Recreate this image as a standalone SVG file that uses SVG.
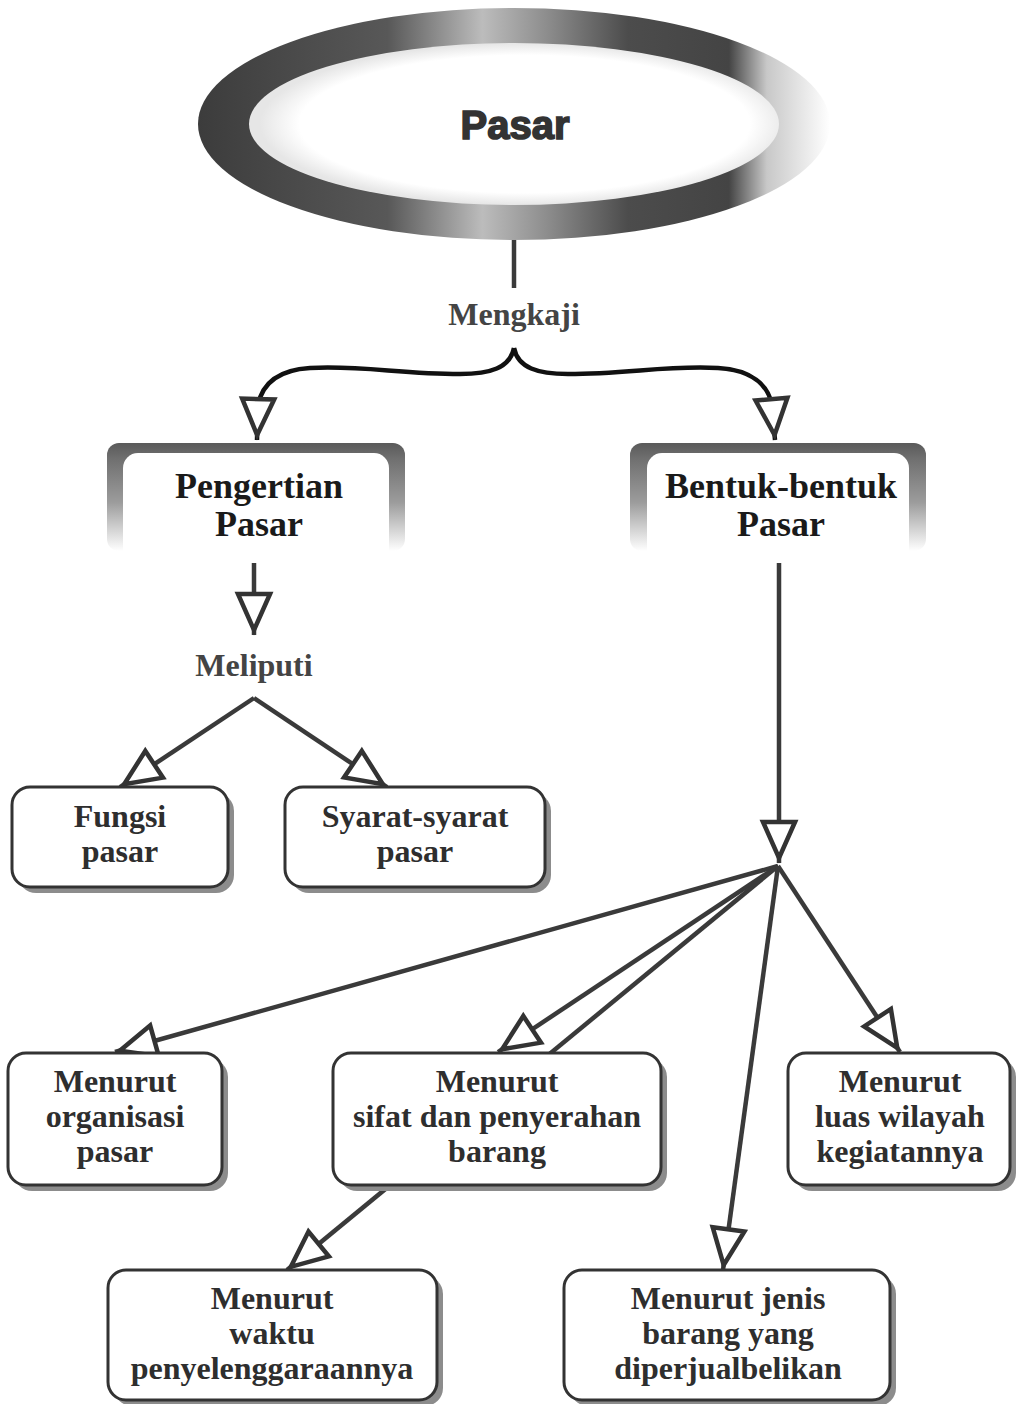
<svg xmlns="http://www.w3.org/2000/svg" width="1016" height="1404" viewBox="0 0 1016 1404">
<defs>
<style>
.t{font-family:"Liberation Serif","Times New Roman",serif;font-weight:bold;text-anchor:middle;fill:#2e2e2e}
.box{fill:#fff;stroke:#333;stroke-width:3}
.sh{fill:#8c8c8c}
.ln{fill:none;stroke:#3a3a3a;stroke-width:4.5;stroke-linecap:butt}
.arr{marker-end:url(#ah)}
</style>
<linearGradient id="ring" gradientUnits="userSpaceOnUse" x1="198" y1="0" x2="830" y2="0">
<stop offset="0" stop-color="#3c3c3c"/>
<stop offset="0.3" stop-color="#585858"/>
<stop offset="0.45" stop-color="#bcbcbc"/>
<stop offset="0.55" stop-color="#8e8e8e"/>
<stop offset="0.68" stop-color="#4c4c4c"/>
<stop offset="0.84" stop-color="#444"/>
<stop offset="0.9" stop-color="#c8c8c8"/>
<stop offset="1" stop-color="#fff"/>
</linearGradient>
<radialGradient id="inner" cx="0.52" cy="0.5" r="0.5">
<stop offset="0.85" stop-color="#fff"/>
<stop offset="1" stop-color="#e6e6e6"/>
</radialGradient>
<linearGradient id="hg" x1="0" y1="0" x2="0" y2="1">
<stop offset="0" stop-color="#5a5a5a"/>
<stop offset="0.15" stop-color="#707070"/>
<stop offset="0.55" stop-color="#9c9c9c"/>
<stop offset="1" stop-color="#fff"/>
</linearGradient>
<marker id="ah" viewBox="-4 -4 48 40" markerWidth="48" markerHeight="40" refX="41" refY="16" orient="auto" markerUnits="userSpaceOnUse" overflow="visible">
<path d="M0,0 L36,16 L0,32 Z" fill="#fff" stroke="#333" stroke-width="4.5" stroke-linejoin="miter"/>
</marker>
</defs>
<rect x="0" y="0" width="1016" height="1404" fill="#fff"/>

<g id="connectors">
<path class="ln" d="M514,240 L514,288" stroke="#333"/>
<path class="ln arr" style="stroke:#111" d="M514,348 C510,368 490,374 460,374 C400,374 360,365 310,368 C276,370 262,385 258,405 L257,440"/>
<path class="ln arr" style="stroke:#111" d="M514,348 C518,368 538,374 568,374 C628,374 668,365 718,368 C752,370 768,385 772,405 L775,440"/>
<path class="ln arr" d="M254,552 L254,635"/>
<path class="ln arr" d="M254,698 L120,787"/>
<path class="ln arr" d="M254,698 L387,787"/>
<path class="ln arr" d="M779,553 L779,863"/>
<path class="ln arr" d="M778,866 L115,1052"/>
<path class="ln arr" d="M778,866 L498,1052"/>
<path class="ln arr" d="M778,866 L287,1270"/>
<path class="ln arr" d="M778,866 L723,1270"/>
<path class="ln arr" d="M778,866 L900,1052"/>
</g>

<g id="pasar">
<ellipse cx="514" cy="124" rx="316" ry="116" fill="url(#ring)"/>
<ellipse cx="514" cy="124" rx="265" ry="81" fill="url(#inner)"/>
<text x="515" y="139" style="font-family:'Liberation Sans',Arial,sans-serif;font-weight:bold;font-size:40px;text-anchor:middle;fill:#333;stroke:#333;stroke-width:1.6">Pasar</text>
</g>

<g id="mengkaji">
<text class="t" x="514" y="325" style="font-size:32px;fill:#444">Mengkaji</text>
</g>

<g id="pengertian">
<rect x="107" y="443" width="298" height="108" rx="12" fill="url(#hg)"/>
<rect x="123" y="453" width="266" height="110" rx="15" fill="#fff"/>
<text class="t" x="259" y="498" style="font-size:36px;fill:#1a1a1a">Pengertian</text>
<text class="t" x="259" y="536" style="font-size:36px;fill:#1a1a1a">Pasar</text>
</g>

<g id="bentuk">
<rect x="630" y="443" width="296" height="108" rx="12" fill="url(#hg)"/>
<rect x="647" y="453" width="262" height="110" rx="15" fill="#fff"/>
<text class="t" x="781" y="498" style="font-size:36px;fill:#1a1a1a">Bentuk-bentuk</text>
<text class="t" x="781" y="536" style="font-size:36px;fill:#1a1a1a">Pasar</text>
</g>

<g id="meliputi">
<text class="t" x="254" y="676" style="font-size:32px;fill:#444">Meliputi</text>
</g>

<g id="fungsi">
<rect class="sh" x="18" y="793" width="216" height="100" rx="18"/>
<rect class="box" x="12" y="787" width="216" height="100" rx="18"/>
<text class="t" x="120" y="827" style="font-size:32px">Fungsi</text>
<text class="t" x="120" y="862" style="font-size:32px">pasar</text>
</g>

<g id="syarat">
<rect class="sh" x="291" y="793" width="260" height="100" rx="18"/>
<rect class="box" x="285" y="787" width="260" height="100" rx="18"/>
<text class="t" x="415" y="827" style="font-size:32px">Syarat-syarat</text>
<text class="t" x="415" y="862" style="font-size:32px">pasar</text>
</g>

<g id="organisasi">
<rect class="sh" x="14" y="1059" width="214" height="132" rx="18"/>
<rect class="box" x="8" y="1053" width="214" height="132" rx="18"/>
<text class="t" x="115" y="1092" style="font-size:32px">Menurut</text>
<text class="t" x="115" y="1127" style="font-size:32px">organisasi</text>
<text class="t" x="115" y="1162" style="font-size:32px">pasar</text>
</g>

<g id="sifat">
<rect class="sh" x="339" y="1059" width="328" height="132" rx="18"/>
<rect class="box" x="333" y="1053" width="328" height="132" rx="18"/>
<text class="t" x="497" y="1092" style="font-size:32px">Menurut</text>
<text class="t" x="497" y="1127" style="font-size:32px">sifat dan penyerahan</text>
<text class="t" x="497" y="1162" style="font-size:32px">barang</text>
</g>

<g id="luas">
<rect class="sh" x="794" y="1059" width="222" height="132" rx="18"/>
<rect class="box" x="788" y="1053" width="222" height="132" rx="18"/>
<text class="t" x="900" y="1092" style="font-size:32px">Menurut</text>
<text class="t" x="900" y="1127" style="font-size:32px">luas wilayah</text>
<text class="t" x="900" y="1162" style="font-size:32px">kegiatannya</text>
</g>

<g id="waktu">
<rect class="sh" x="114" y="1276" width="329" height="130" rx="18"/>
<rect class="box" x="108" y="1270" width="329" height="130" rx="18"/>
<text class="t" x="272" y="1309" style="font-size:32px">Menurut</text>
<text class="t" x="272" y="1344" style="font-size:32px">waktu</text>
<text class="t" x="272" y="1379" style="font-size:32px">penyelenggaraannya</text>
</g>

<g id="jenis">
<rect class="sh" x="570" y="1276" width="326" height="130" rx="18"/>
<rect class="box" x="564" y="1270" width="326" height="130" rx="18"/>
<text class="t" x="728" y="1309" style="font-size:32px">Menurut jenis</text>
<text class="t" x="728" y="1344" style="font-size:32px">barang yang</text>
<text class="t" x="728" y="1379" style="font-size:32px">diperjualbelikan</text>
</g>
</svg>
